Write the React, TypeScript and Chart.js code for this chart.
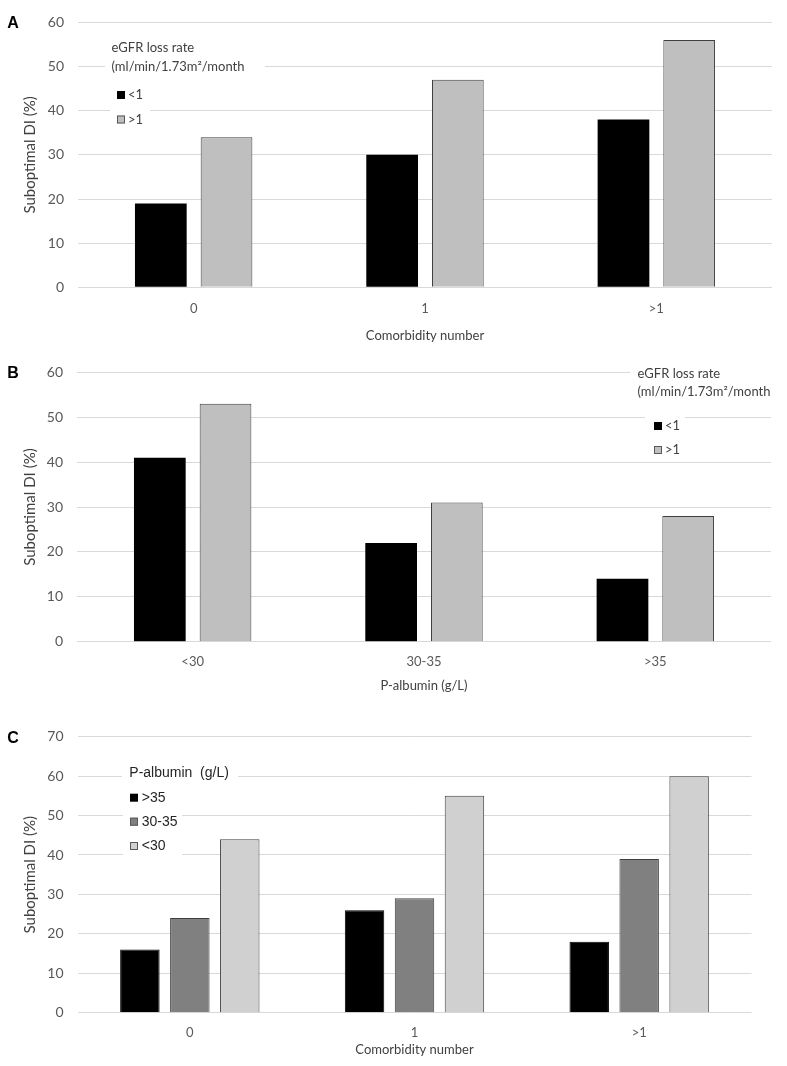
import React, { useEffect, useRef } from "react";
import { Chart, registerables } from "chart.js";

Chart.register(...registerables);

// ---------- data ----------
const comorbidityCategories = ["0", "1", ">1"];
const albuminCategories = ["<30", "30-35", ">35"];
const egfrSeriesNames = ["<1", ">1"];
const albuminSeriesNames = [">35", "30-35", "<30"];

const aEgfrBelow1 = [19, 30, 38];
const aEgfrAbove1 = [34, 47, 56];
const bEgfrBelow1 = [41, 22, 14];
const bEgfrAbove1 = [53, 31, 28];
const cAlbuminAbove35 = [16, 26, 18];
const cAlbumin30to35 = [24, 29, 39];
const cAlbuminBelow30 = [44, 55, 60];

const yAxisTitle = "Suboptimal DI (%)";
const egfrLegendTitle = ["eGFR loss rate", "(ml/min/1.73m²/month"];
const albuminLegendTitle = ["P-albumin  (g/L)"];

// ---------- styles ----------
const W = 787;
const TICK_COLOR = "#595959";
const TITLE_COLOR = "#404040";
const GRID_COLOR = "#d9d9d9";
const BASE_FONT = "Lato, 'Open Sans', sans-serif";

type Series = { label: string; data: number[]; fill: string; stroke: string; strokeWidth: number };

type PanelCfg = {
  letter: string;
  top: number;
  height: number;
  plotTop: number;
  plotBottom: number;
  plotLeft: number;
  plotRight: number;
  yMax: number;
  labels: string[];
  series: Series[];
  catPct: number;
  barPct: number;
  xTitle: string;
  xTickPad: number;
  xTitlePad: number;
  legend: {
    font: string;
    color: string;
    boxes: { x: number; y: number; w: number; h: number }[];
    titleLines: string[];
    titleX: number;
    titleY: number[];
    squareX: number;
    textX: number;
    entryY: number[];
  };
};

const panels: PanelCfg[] = [
  {
    letter: "A",
    top: 0,
    height: 350,
    plotTop: 12,
    plotBottom: 287.3,
    plotLeft: 78,
    plotRight: 772,
    yMax: 60,
    labels: comorbidityCategories,
    series: [
      { label: egfrSeriesNames[0], data: aEgfrBelow1, fill: "#000000", stroke: "#000000", strokeWidth: 0 },
      { label: egfrSeriesNames[1], data: aEgfrAbove1, fill: "#bfbfbf", stroke: "#404040", strokeWidth: 1 },
    ],
    catPct: 0.568,
    barPct: 0.787,
    xTitle: "Comorbidity number",
    xTickPad: 13.3,
    xTitlePad: 6.2,
    legend: {
      font: `13px ${BASE_FONT}`,
      color: TITLE_COLOR,
      boxes: [
        { x: 105, y: 36, w: 160, h: 42 },
        { x: 110, y: 84, w: 40, h: 46 },
      ],
      titleLines: egfrLegendTitle,
      titleX: 111.5,
      titleY: [48, 66.5],
      squareX: 117,
      textX: 128,
      entryY: [95, 119.5],
    },
  },
  {
    letter: "B",
    top: 350,
    height: 350,
    plotTop: 15.3,
    plotBottom: 291.7,
    plotLeft: 77,
    plotRight: 771,
    yMax: 60,
    labels: albuminCategories,
    series: [
      { label: egfrSeriesNames[0], data: bEgfrBelow1, fill: "#000000", stroke: "#000000", strokeWidth: 0 },
      { label: egfrSeriesNames[1], data: bEgfrAbove1, fill: "#bfbfbf", stroke: "#404040", strokeWidth: 1 },
    ],
    catPct: 0.568,
    barPct: 0.787,
    xTitle: "P-albumin (g/L)",
    xTickPad: 12.5,
    xTitlePad: 6.2,
    legend: {
      font: `13px ${BASE_FONT}`,
      color: TITLE_COLOR,
      boxes: [
        { x: 630, y: 10, w: 157, h: 40 },
        { x: 645, y: 66, w: 40, h: 46 },
      ],
      titleLines: egfrLegendTitle,
      titleX: 637.5,
      titleY: [24, 41.7],
      squareX: 654,
      textX: 665,
      entryY: [76, 100],
    },
  },
  {
    letter: "C",
    top: 700,
    height: 366,
    plotTop: 36.7,
    plotBottom: 312.7,
    plotLeft: 77.5,
    plotRight: 751.5,
    yMax: 70,
    labels: comorbidityCategories,
    series: [
      { label: albuminSeriesNames[0], data: cAlbuminAbove35, fill: "#000000", stroke: "#000000", strokeWidth: 1 },
      { label: albuminSeriesNames[1], data: cAlbumin30to35, fill: "#808080", stroke: "#404040", strokeWidth: 1 },
      { label: albuminSeriesNames[2], data: cAlbuminBelow30, fill: "#d0d0d0", stroke: "#404040", strokeWidth: 1 },
    ],
    catPct: 0.667,
    barPct: 0.79,
    xTitle: "Comorbidity number",
    xTickPad: 12,
    xTitlePad: 8.2,
    legend: {
      font: "14px 'Liberation Sans', Arial, sans-serif",
      color: "#262626",
      boxes: [
        { x: 122, y: 62, w: 116, h: 24 },
        { x: 123, y: 86, w: 59, h: 72 },
      ],
      titleLines: albuminLegendTitle,
      titleX: 129.3,
      titleY: [73.3],
      squareX: 130,
      textX: 141.7,
      entryY: [97.7, 121.7, 146],
    },
  },
];

function makeLegendPlugin(cfg: PanelCfg) {
  return {
    id: "panelLegend" + cfg.letter,
    afterDraw(chart: any) {
      const ctx: CanvasRenderingContext2D = chart.ctx;
      const lg = cfg.legend;
      ctx.save();
      ctx.fillStyle = "#ffffff";
      lg.boxes.forEach((b) => ctx.fillRect(b.x, b.y, b.w, b.h));
      ctx.font = lg.font;
      ctx.textAlign = "left";
      ctx.textBaseline = "middle";
      ctx.fillStyle = lg.color;
      lg.titleLines.forEach((t, i) => ctx.fillText(t, lg.titleX, lg.titleY[i]));
      chart.data.datasets.forEach((ds: any, i: number) => {
        const y = lg.entryY[i];
        ctx.fillStyle = ds.backgroundColor;
        ctx.fillRect(lg.squareX, y - 4, 8, 8);
        if (ds.backgroundColor !== "#000000") {
          ctx.strokeStyle = "#595959";
          ctx.lineWidth = 1;
          ctx.strokeRect(lg.squareX + 0.5, y - 3.5, 7, 7);
        }
        ctx.fillStyle = lg.color;
        ctx.fillText(ds.label, lg.textX, y);
      });
      ctx.font = "bold 16px 'Liberation Sans', Arial, sans-serif";
      ctx.fillStyle = "#000000";
      ctx.textAlign = "center";
      ctx.fillText(cfg.letter, 13, chart.chartArea.top + 1.5);
      ctx.restore();
    },
  };
}

function Panel({ cfg }: { cfg: PanelCfg }) {
  const ref = useRef<HTMLCanvasElement>(null);
  useEffect(() => {
    if (!ref.current) return;
    const chart = new Chart(ref.current, {
      type: "bar",
      data: {
        labels: cfg.labels,
        datasets: cfg.series.map((s) => ({
          label: s.label,
          data: s.data,
          backgroundColor: s.fill,
          borderColor: s.stroke,
          borderWidth: s.strokeWidth,
          categoryPercentage: cfg.catPct,
          barPercentage: cfg.barPct,
        })),
      },
      options: {
        animation: false,
        responsive: false,
        maintainAspectRatio: false,
        layout: { padding: { top: cfg.plotTop, right: W - cfg.plotRight, bottom: 0, left: 0 } },
        plugins: { legend: { display: false }, tooltip: { enabled: false } },
        scales: {
          x: {
            grid: { display: false, drawTicks: false },
            border: { display: false },
            ticks: { color: TICK_COLOR, font: { family: BASE_FONT, size: 13 }, padding: cfg.xTickPad },
            title: {
              display: true,
              text: cfg.xTitle,
              color: TITLE_COLOR,
              font: { family: BASE_FONT, size: 13 },
              padding: { top: 0, bottom: cfg.xTitlePad },
            },
            afterFit: (s: any) => {
              s.height = cfg.height - cfg.plotBottom;
            },
          },
          y: {
            min: 0,
            max: cfg.yMax,
            ticks: { stepSize: 10, color: TICK_COLOR, font: { family: BASE_FONT, size: 14 }, padding: 14 },
            grid: { color: GRID_COLOR, lineWidth: 1, drawTicks: false },
            border: { display: false },
            title: {
              display: true,
              text: yAxisTitle,
              color: TITLE_COLOR,
              font: { family: BASE_FONT, size: 15 },
              padding: { top: 21, bottom: 0 },
            },
            afterFit: (s: any) => {
              s.width = cfg.plotLeft;
            },
          },
        },
      },
      plugins: [makeLegendPlugin(cfg)],
    } as any);
    return () => chart.destroy();
  }, [cfg]);
  return (
    <canvas
      ref={ref}
      width={W}
      height={cfg.height}
      style={{ position: "absolute", left: 0, top: cfg.top, width: W, height: cfg.height }}
    />
  );
}

export default function App() {
  return (
    <div style={{ position: "absolute", left: 0, top: 0, width: W, height: 1066, background: "#ffffff" }}>
      {panels.map((p) => (
        <Panel key={p.letter} cfg={p} />
      ))}
    </div>
  );
}
